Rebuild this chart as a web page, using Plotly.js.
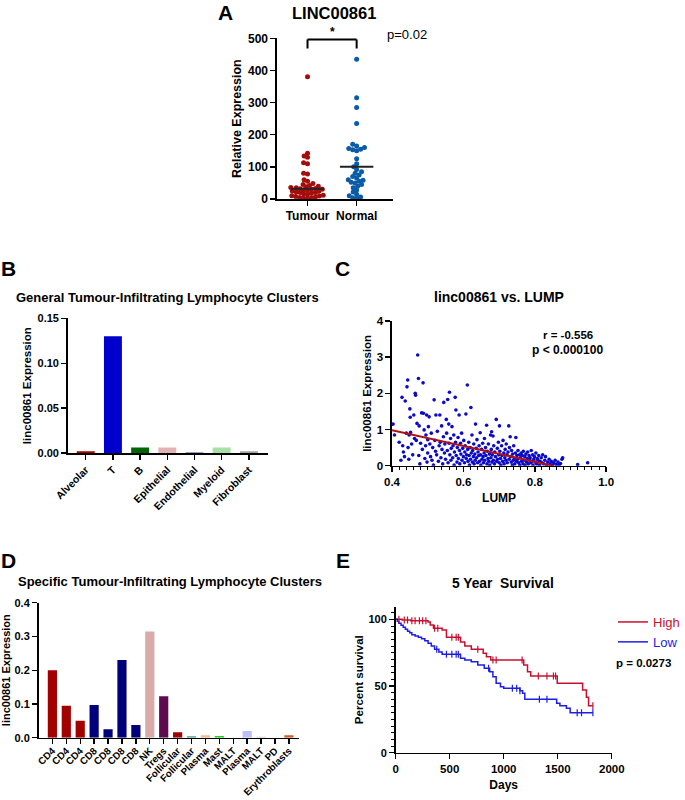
<!DOCTYPE html>
<html>
<head>
<meta charset="utf-8">
<script src="https://cdn.plot.ly/plotly-3.0.1.min.js"></script>
<style>html,body{margin:0;padding:0;background:#fff;}#chart{width:685px;height:800px;}</style>
</head>
<body>
<div id="chart"></div>
<script>
// ---------------- DATA ----------------
// Panel A: LINC00861 relative expression
const groupsA = ['Tumour', 'Normal'];
const tumourExpr = [380, 142, 134, 130, 113, 110, 80, 78, 60, 55, 48, 45, 42, 40, 38, 36, 35, 33, 32, 30, 30, 28, 27, 25, 24, 22, 20, 20, 18, 16, 15, 12, 10, 9, 8, 6, 5, 4, 3, 2];
const normalExpr = [435, 315, 285, 235, 170, 165, 160, 157, 155, 153, 150, 125, 110, 100, 92, 85, 80, 75, 70, 65, 60, 58, 55, 52, 50, 45, 40, 35, 28, 22, 15, 10, 6, 4, 2];
const centralLines = [32, 100];

// Panel B: general clusters
const generalClusters = ['Alveolar', 'T', 'B', 'Epithelial', 'Endothelial', 'Myeloid', 'Fibroblast'];
const generalExpr = [0.002, 0.130, 0.006, 0.006, 0.0006, 0.006, 0.002];
const generalColors = ['#A30000', '#0000CC', '#006400', '#E3B3B3', '#3A3A8A', '#A8E0A8', '#A0A0A0'];

// Panel C: linc00861 vs LUMP
const lumpX = [0.403,0.407,0.42,0.425,0.428,0.43,0.432,0.435,0.437,0.44,0.442,0.444,0.445,0.447,0.448,0.45,0.451,0.452,0.455,0.458,
0.461,0.463,0.465,0.466,0.468,0.47,0.472,0.474,0.475,0.476,0.478,0.48,0.483,0.485,0.487,0.488,0.49,0.492,0.494,0.495,0.497,0.498,0.5,0.5,
0.502,0.504,0.506,0.508,0.51,0.512,0.514,0.516,0.518,0.52,0.522,0.523,0.525,0.527,0.53,0.532,0.534,0.535,0.537,0.539,0.54,0.542,0.544,0.545,0.547,0.548,0.55,
0.552,0.553,0.555,0.556,0.557,0.559,0.56,0.561,0.562,0.564,0.565,0.566,0.568,0.57,0.571,0.573,0.574,0.575,0.577,0.578,0.579,0.58,0.582,0.583,0.585,0.586,0.588,0.589,0.59,0.592,0.593,0.595,0.596,0.598,0.6,
0.601,0.603,0.604,0.605,0.607,0.608,0.609,0.611,0.612,0.613,0.615,0.616,0.617,0.619,0.62,0.621,0.622,0.624,0.625,0.626,0.628,0.629,0.63,0.632,0.633,0.634,0.636,0.637,0.638,0.64,0.641,0.643,0.644,0.645,0.647,0.648,0.649,
0.651,0.652,0.654,0.655,0.656,0.658,0.659,0.66,0.662,0.663,0.665,0.666,0.667,0.669,0.67,0.671,0.673,0.674,0.676,0.677,0.678,0.68,0.679,0.681,0.683,0.684,0.685,0.687,0.688,0.69,0.692,0.693,0.695,0.696,0.698,0.699,0.7,
0.701,0.702,0.704,0.705,0.707,0.708,0.71,0.711,0.713,0.714,0.716,0.717,0.719,0.72,0.722,0.723,0.725,0.727,0.728,0.729,0.731,0.732,0.734,0.735,0.737,0.738,0.74,0.741,0.743,0.744,0.746,0.747,0.749,0.75,
0.752,0.753,0.755,0.757,0.758,0.76,0.762,0.763,0.765,0.767,0.768,0.77,0.772,0.773,0.775,0.777,0.779,0.78,0.782,0.784,0.785,0.787,0.789,0.79,0.792,0.794,0.795,0.797,0.799,
0.801,0.803,0.805,0.807,0.809,0.811,0.813,0.815,0.818,0.82,0.822,0.825,0.828,0.83,0.833,0.836,0.84,0.843,0.846,0.85,0.853,0.857,0.86,0.865,0.868,0.872,0.876,0.878,
0.92,0.948];
const lincY = [1.15,0.85,0.65,0.15,1.89,0.55,0.38,0.25,1.79,0.9,2.18,2.37,0.5,0.18,0.85,1.57,1.34,0.92,0.6,0.3,
1.4,0.75,2.0,1.95,0.7,1.17,3.06,2.41,0.28,1.1,0.05,0.62,1.46,0.45,2.29,1.45,0.99,0.2,0.55,0.85,1.4,0.1,0.35,0.72,
1.08,1.35,0.6,0.25,0.9,0.15,0.5,0.02,1.82,0.7,0.4,1.4,0.3,0.95,0.12,0.55,1.4,0.65,0.22,1.1,0.45,0.05,0.8,1.75,0.35,0.6,0.18,
1.28,0.9,0.42,1.83,0.08,1.15,0.62,2.03,0.3,0.75,0.15,0.48,1.08,0.22,0.55,0.85,0.02,0.38,1.89,0.65,1.54,0.28,0.1,0.5,0.78,0.2,1.4,0.42,0.05,0.62,0.32,0.9,0.15,0.48,0.25,
0.7,0.08,0.38,0.55,1.43,0.2,0.3,2.23,0.45,0.12,0.65,0.28,0.02,0.5,0.18,1.61,0.35,0.85,0.1,0.42,0.25,0.6,0.05,0.32,0.15,1.15,0.48,0.22,0.72,0.08,0.38,0.28,0.55,0.12,0.91,0.3,0.02,
0.45,0.18,0.62,0.25,0.08,0.35,0.75,0.15,0.5,0.28,1.12,0.05,0.4,0.2,0.6,0.12,0.32,0.02,0.85,0.22,0.45,0.1,0.94,0.3,0.82,0.15,0.55,0.05,0.38,0.25,1.28,0.12,0.48,0.18,0.65,0.3,0.08,
1.1,0.4,0.2,0.02,0.55,0.28,0.12,0.7,0.35,0.05,0.22,0.45,0.15,0.6,0.3,0.08,0.38,1.1,0.18,0.5,0.8,0.25,0.1,0.42,0.02,0.32,0.15,0.55,0.2,0.05,0.35,0.78,0.12,0.28,
0.18,0.42,0.08,0.3,0.02,0.22,0.35,0.12,0.28,0.05,0.4,0.15,0.25,0.02,0.32,0.1,0.2,0.38,0.05,0.28,0.15,0.22,0.08,0.42,0.12,0.3,0.02,0.18,0.25,
0.1,0.35,0.05,0.2,0.15,0.28,0.02,0.12,0.22,0.08,0.3,0.05,0.15,0.25,0.02,0.1,0.18,0.05,0.12,0.02,0.08,0.15,0.04,0.1,0.02,0.06,0.18,0.22,
0.03,0.08];
const fitSlope = -2.18, fitIntercept = 1.852, fitXRange = [0.4, 0.85];

// Panel D: specific clusters
const specificClusters = ['CD4','CD4','CD4','CD8','CD8','CD8','CD8','NK','Tregs','Follicular','Follicular','Plasma','Mast','MALT','Plasma','MALT','PD','Erythroblasts'];
const specificExpr = [0.200, 0.095, 0.050, 0.097, 0.025, 0.230, 0.038, 0.315, 0.123, 0.016, 0.004, 0.007, 0.005, 0.0, 0.020, 0.003, 0.0, 0.007];
const specificColors = ['#A30000','#A30000','#A30000','#00007A','#00007A','#00007A','#00007A','#D9AAAA','#5E0A4E','#A30000','#4E9A86','#F7B98B','#1FD31F','#888888','#BDBDF7','#C8C8C8','#999999','#C8641E'];

// Panel E: Kaplan-Meier 5-year survival
const highDays = [0, 60, 140, 300, 320, 350, 430, 470, 600, 640, 700, 810, 840, 880, 1185, 1220, 1250, 1495, 1730, 1765, 1785, 1825];
const highSurv = [100, 99.5, 99, 98, 95.8, 93.3, 92, 86.5, 83, 80, 77.5, 74.5, 72, 69.5, 65.8, 60.8, 57.5, 52, 47, 41.5, 35.3, 35.3];
const lowDays = [0, 15, 30, 50, 70, 90, 110, 130, 150, 180, 210, 240, 270, 300, 330, 360, 400, 430, 600, 640, 700, 760, 820, 870, 900, 930, 970, 1000, 1150, 1175, 1195, 1490, 1520, 1580, 1615, 1825];
const lowSurv = [100, 98.5, 97, 95.5, 94, 92.5, 91, 90, 88.5, 87.5, 86.5, 85.5, 84, 82, 80, 77.5, 75.5, 73.8, 70.8, 69.5, 68.3, 65.8, 63.3, 60.8, 57, 52, 49.5, 48.3, 46.5, 44.5, 40, 37, 35.3, 33.3, 30, 30];
const highCensored = [30, 80, 110, 150, 180, 220, 250, 280, 360, 390, 520, 560, 580, 760, 900, 930, 1170, 1320, 1400, 1460, 1480, 1825];
const lowCensored = [380, 470, 520, 560, 580, 860, 1080, 1120, 1150, 1330, 1400, 1680, 1720, 1825];

// ---------------- HELPERS ----------------
const W = 685, H = 800;
const PX = v => v / W;
const PY = v => 1 - v / H;
const FONT = 'Liberation Sans, Arial, sans-serif';
const bold = (size, color) => ({family: FONT, size: size, weight: 700, color: color || '#000'});

// Panel A geometry (pixels)
const A = {x0: 282, x1: 400, y0: 199, y1: 38.3, xr: [-0.62, 1.74], yr: [0, 500]};
const pxPerUnitAx = (A.x1 - A.x0) / (A.xr[1] - A.xr[0]);
const pxPerUnitAy = (A.y0 - A.y1) / (A.yr[1] - A.yr[0]);

function swarm(values, centre, diam) {
  const order = values.map((v, i) => i).sort((a, b) => values[a] - values[b]);
  const placed = [];
  const xs = new Array(values.length);
  for (const i of order) {
    const y = values[i] * pxPerUnitAy;
    let off = 0;
    for (let k = 0; k < 400; k++) {
      const cand = (k % 2 === 0 ? 1 : -1) * Math.ceil(k / 2) * 0.5;
      if (placed.every(p => (p.x - cand) ** 2 + (p.y - y) ** 2 >= diam * diam)) { off = cand; break; }
    }
    placed.push({x: off, y: y});
    xs[i] = centre + off / pxPerUnitAx;
  }
  return xs;
}

function stepAt(days, surv, t) {
  let s = surv[0];
  for (let i = 0; i < days.length; i++) { if (days[i] <= t) s = surv[i]; }
  return s;
}

const axisBase = {
  showline: true, linecolor: '#000', linewidth: 1.6, ticks: 'outside', ticklen: 5, tickwidth: 1.4, tickcolor: '#000',
  showgrid: false, zeroline: false, fixedrange: true
};

// ---------------- TRACES ----------------
const traces = [];
// Panel A
traces.push({type: 'scatter', mode: 'markers', x: swarm(tumourExpr, 0, 3.7), y: tumourExpr, xaxis: 'x', yaxis: 'y',
  marker: {color: '#A50D0D', size: 5}, showlegend: false, hoverinfo: 'skip'});
traces.push({type: 'scatter', mode: 'markers', x: swarm(normalExpr, 1, 3.9), y: normalExpr, xaxis: 'x', yaxis: 'y',
  marker: {color: '#0B5CA8', size: 5}, showlegend: false, hoverinfo: 'skip'});

// Panel B
traces.push({type: 'bar', x: generalClusters.map((c, i) => i), y: generalExpr, xaxis: 'x2', yaxis: 'y2', width: 0.66,
  marker: {color: generalColors, line: {width: 0}}, showlegend: false, hoverinfo: 'skip'});

// Panel C
traces.push({type: 'scatter', mode: 'markers', x: lumpX, y: lincY, xaxis: 'x3', yaxis: 'y3',
  marker: {color: '#0A0AC8', size: 3.6}, showlegend: false, hoverinfo: 'skip'});
traces.push({type: 'scatter', mode: 'lines', x: fitXRange, y: fitXRange.map(v => fitIntercept + fitSlope * v), xaxis: 'x3', yaxis: 'y3',
  line: {color: '#B40F0F', width: 2}, showlegend: false, hoverinfo: 'skip'});

// Panel D
traces.push({type: 'bar', x: specificClusters.map((c, i) => i), y: specificExpr, xaxis: 'x4', yaxis: 'y4', width: 0.66,
  marker: {color: specificColors, line: {width: 0}}, showlegend: false, hoverinfo: 'skip'});

// Panel E
traces.push({type: 'scatter', mode: 'lines', x: highDays, y: highSurv, xaxis: 'x5', yaxis: 'y5', line: {shape: 'hv', color: '#C8102E', width: 1.5},
  name: '<span style="color:#C8102E">High</span>', hoverinfo: 'skip'});
traces.push({type: 'scatter', mode: 'lines', x: lowDays, y: lowSurv, xaxis: 'x5', yaxis: 'y5', line: {shape: 'hv', color: '#1E1EE6', width: 1.5},
  name: '<span style="color:#1E1EE6">Low</span>', hoverinfo: 'skip'});
traces.push({type: 'scatter', mode: 'markers', x: highCensored, y: highCensored.map(t => stepAt(highDays, highSurv, t)), xaxis: 'x5', yaxis: 'y5',
  marker: {symbol: 'line-ns', size: 5, line: {color: '#C8102E', width: 1.2}}, showlegend: false, hoverinfo: 'skip'});
traces.push({type: 'scatter', mode: 'markers', x: lowCensored, y: lowCensored.map(t => stepAt(lowDays, lowSurv, t)), xaxis: 'x5', yaxis: 'y5',
  marker: {symbol: 'line-ns', size: 5, line: {color: '#1E1EE6', width: 1.2}}, showlegend: false, hoverinfo: 'skip'});

// ---------------- LAYOUT ----------------
const layout = {
  width: W, height: H, margin: {l: 0, r: 0, t: 0, b: 0}, paper_bgcolor: '#fff', plot_bgcolor: 'rgba(0,0,0,0)',
  font: {family: FONT, color: '#000'},
  showlegend: true,
  legend: {x: PX(624), y: PY(607), xanchor: 'left', yanchor: 'top', font: {family: FONT, size: 13}, bgcolor: 'rgba(0,0,0,0)', tracegroupgap: 0, itemwidth: 30},
  // Panel A
  xaxis: Object.assign({}, axisBase, {domain: [PX(A.x0), PX(A.x1)], range: A.xr, anchor: 'y', tickvals: [0, 1], ticktext: groupsA, tickfont: bold(12)}),
  yaxis: Object.assign({}, axisBase, {domain: [PY(A.y0), PY(A.y1)], range: A.yr, anchor: 'x', dtick: 100, tickfont: bold(12),
    title: {text: 'Relative Expression', font: bold(12.5), standoff: 3}}),
  // Panel B
  xaxis2: Object.assign({}, axisBase, {domain: [PX(69), PX(272.7)], range: [-0.66, 6.7], anchor: 'y2', tickvals: generalClusters.map((c, i) => i),
    ticktext: generalClusters, tickangle: -45, tickfont: bold(10.5)}),
  yaxis2: Object.assign({}, axisBase, {domain: [PY(453), PY(318.3)], range: [0, 0.15], anchor: 'x2', tickvals: [0, 0.05, 0.10, 0.15], tickformat: '.2f',
    tickfont: bold(11), title: {text: 'linc00861 Expression', font: bold(11.5), standoff: 3}}),
  // Panel C
  xaxis3: Object.assign({}, axisBase, {domain: [PX(399), PX(617)], range: [0.4, 1.0], anchor: 'y3', dtick: 0.2, tick0: 0.4, tickformat: '.1f',
    tickfont: bold(11.5), minor: {dtick: 0.02, ticks: 'outside', ticklen: 3, tickwidth: 1, tickcolor: '#000'},
    title: {text: 'LUMP', font: bold(12), standoff: 6}}),
  yaxis3: Object.assign({}, axisBase, {domain: [PY(465.7), PY(321)], range: [0, 4], anchor: 'x3', dtick: 1, tickfont: bold(11.5),
    title: {text: 'linc00861 Expression', font: bold(11.5), standoff: 2}}),
  // Panel D
  xaxis4: Object.assign({}, axisBase, {domain: [PX(39.3), PX(304)], range: [-0.99, 17.7], anchor: 'y4', tickvals: specificClusters.map((c, i) => i),
    ticktext: specificClusters, tickangle: -45, tickfont: bold(9.8), ticklabelstandoff: -3}),
  yaxis4: Object.assign({}, axisBase, {domain: [PY(737.7), PY(602.7)], range: [0, 0.4], anchor: 'x4', dtick: 0.1, tickformat: '.1f',
    tickfont: bold(11), title: {text: 'linc00861 Expression', font: bold(11), standoff: 3}}),
  // Panel E
  xaxis5: Object.assign({}, axisBase, {domain: [PX(402.7), PX(622.7)], range: [0, 2000], anchor: 'y5', dtick: 500, tickfont: bold(11.5),
    title: {text: 'Days', font: bold(12), standoff: 6}}),
  yaxis5: Object.assign({}, axisBase, {domain: [PY(752.7), PY(606.7)], range: [0, 109.5], anchor: 'x5', tickvals: [0, 50, 100], tickfont: bold(11),
    minor: {dtick: 5, ticks: 'outside', ticklen: 3, tickwidth: 1, tickcolor: '#000'},
    title: {text: 'Percent survival', font: bold(11.5), standoff: 2}}),
  shapes: [
    // panel A central lines
    {type: 'line', xref: 'x', yref: 'y', x0: -0.34, x1: 0.34, y0: centralLines[0], y1: centralLines[0], line: {color: '#222', width: 2}},
    {type: 'line', xref: 'x', yref: 'y', x0: 0.66, x1: 1.34, y0: centralLines[1], y1: centralLines[1], line: {color: '#222', width: 2}},
    // significance bracket
    {type: 'line', xref: 'x', yref: 'paper', x0: 0, x1: 1, y0: PY(39.5), y1: PY(39.5), line: {color: '#000', width: 2}},
    {type: 'line', xref: 'x', yref: 'paper', x0: 0, x1: 0, y0: PY(39.5), y1: PY(48.5), line: {color: '#000', width: 2}},
    {type: 'line', xref: 'x', yref: 'paper', x0: 1, x1: 1, y0: PY(39.5), y1: PY(48.5), line: {color: '#000', width: 2}}
  ],
  annotations: [
    {text: 'A', x: PX(230), y: PY(12), font: bold(21)},
    {text: 'LINC00861', x: PX(340), y: PY(12.5), font: bold(16.5)},
    {text: '*', xref: 'x', x: 0.5, y: PY(32), font: bold(12)},
    {text: 'p=0.02', x: PX(414), y: PY(35), font: {family: FONT, size: 13, color: '#000'}},
    {text: 'B', x: PX(9), y: PY(268), font: bold(21)},
    {text: 'General Tumour-Infiltrating Lymphocyte Clusters', x: PX(170), y: PY(297), font: bold(13)},
    {text: 'C', x: PX(349), y: PY(268), font: bold(21)},
    {text: 'linc00861 vs. LUMP', x: PX(508), y: PY(297), font: bold(14)},
    {text: 'r = -0.556', x: PX(578), y: PY(335), font: bold(11.5)},
    {text: 'p < 0.000100', x: PX(578), y: PY(350), font: bold(12)},
    {text: 'D', x: PX(9), y: PY(560), font: bold(21)},
    {text: 'Specific Tumour-Infiltrating Lymphocyte Clusters', x: PX(173), y: PY(581), font: bold(13)},
    {text: 'E', x: PX(349), y: PY(560), font: bold(21)},
    {text: '5 Year  Survival', x: PX(512), y: PY(583), font: bold(13.8)},
    {text: 'p = 0.0273', x: PX(655), y: PY(663), font: bold(11.5)}
  ].map(a => Object.assign({xref: 'paper', yref: 'paper', showarrow: false, xanchor: 'center', yanchor: 'middle'}, a))
};

Plotly.newPlot('chart', traces, layout, {staticPlot: true, displayModeBar: false});
</script>
</body>
</html>
